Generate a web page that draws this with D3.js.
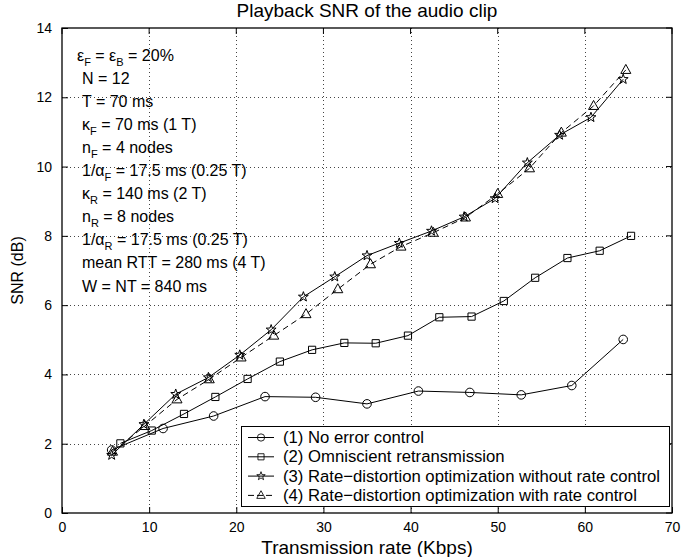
<!DOCTYPE html>
<html>
<head>
<meta charset="utf-8">
<script src="https://cdn.jsdelivr.net/npm/d3@7"></script>
<style>
  html, body { margin: 0; padding: 0; background: #fff; }
  svg { display: block; font-family: "Liberation Sans", Arial, Helvetica, sans-serif; }
</style>
</head>
<body>
<svg id="chart" width="681" height="557"></svg>
<script>
// ---------------- data ----------------
const xTicks = [0, 10, 20, 30, 40, 50, 60, 70];
const yTicks = [0, 2, 4, 6, 8, 10, 12, 14];

const s1x = [5.7, 11.6, 17.4, 23.3, 29.1, 35.0, 40.9, 46.8, 52.7, 58.5, 64.4];
const s1y = [1.82, 2.44, 2.80, 3.36, 3.34, 3.15, 3.52, 3.48, 3.41, 3.68, 5.01];

const s2x = [6.7, 10.3, 14.0, 17.6, 21.3, 25.0, 28.7, 32.4, 36.0, 39.7, 43.3, 47.0, 50.7, 54.3, 58.0, 61.7, 65.3];
const s2y = [2.01, 2.38, 2.86, 3.35, 3.87, 4.37, 4.71, 4.91, 4.90, 5.12, 5.65, 5.67, 6.12, 6.79, 7.36, 7.57, 8.00];

const s3x = [5.7, 9.4, 13.05, 16.8, 20.4, 24.0, 27.7, 31.3, 35.0, 38.7, 42.4, 46.15, 49.7, 53.4, 57.1, 60.7, 64.4];
const s3y = [1.67, 2.56, 3.43, 3.91, 4.56, 5.29, 6.24, 6.82, 7.43, 7.79, 8.14, 8.55, 9.08, 10.11, 10.91, 11.42, 12.52];

const s4x = [5.8, 9.5, 13.2, 16.9, 20.55, 24.3, 28.0, 31.65, 35.4, 38.9, 42.6, 46.3, 50.0, 53.65, 57.3, 61.0, 64.7];
const s4y = [1.77, 2.51, 3.28, 3.86, 4.49, 5.12, 5.74, 6.46, 7.18, 7.69, 8.09, 8.53, 9.21, 9.95, 10.98, 11.75, 12.79];

const seriesNames = [
  "(1) No error control",
  "(2) Omniscient retransmission",
  "(3) Rate\u2212distortion optimization without rate control",
  "(4) Rate\u2212distortion optimization with rate control"
];
const seriesMarkers = ["circle", "square", "star", "triangle"];
const seriesDash = [null, null, null, "6,4"];

const titleText = "Playback SNR of the audio clip";
const xLabel = "Transmission rate (Kbps)";
const yLabel = "SNR (dB)";

// annotation lines: [text, subscript] pairs
const annotations = [
  [["\u03b5", "F"], [" = \u03b5", "B"], [" = 20%", ""]],
  [["N = 12", ""]],
  [["T = 70 ms", ""]],
  [["\u03ba", "F"], [" = 70 ms (1 T)", ""]],
  [["n", "F"], [" = 4 nodes", ""]],
  [["1/\u03b1", "F"], [" = 17.5 ms (0.25 T)", ""]],
  [["\u03ba", "R"], [" = 140 ms (2 T)", ""]],
  [["n", "R"], [" = 8 nodes", ""]],
  [["1/\u03b1", "R"], [" = 17.5 ms (0.25 T)", ""]],
  [["mean RTT = 280 ms (4 T)", ""]],
  [["W = NT = 840 ms", ""]]
];

// ---------------- layout ----------------
const W = 681, H = 557;
const margin = { left: 62, right: 9, top: 28, bottom: 44 };
const x = d3.scaleLinear().domain([0, 70]).range([margin.left, W - margin.right]);
const y = d3.scaleLinear().domain([0, 14]).range([H - margin.bottom, margin.top]);
const x0 = x.range()[0], x1 = x.range()[1], y0 = y.range()[0], y1 = y.range()[1];

const svg = d3.select("#chart");
svg.append("rect").attr("width", W).attr("height", H).attr("fill", "#fff");

// grid
const grid = svg.append("g").attr("stroke", "#444").attr("stroke-width", 1)
  .attr("stroke-dasharray", "1,3").attr("shape-rendering", "crispEdges");
xTicks.slice(1, -1).forEach(t => {
  grid.append("line").attr("x1", Math.round(x(t)) + 0.5).attr("x2", Math.round(x(t)) + 0.5)
    .attr("y1", y1).attr("y2", y0);
});
yTicks.slice(1, -1).forEach(t => {
  grid.append("line").attr("y1", Math.round(y(t)) + 0.5).attr("y2", Math.round(y(t)) + 0.5)
    .attr("x1", x0).attr("x2", x1);
});

// axes (inward ticks, box)
const tickLen = 6;
const axB = d3.axisBottom(x).tickValues(xTicks).tickSizeInner(-tickLen).tickSizeOuter(0).tickPadding(9);
const axL = d3.axisLeft(y).tickValues(yTicks).tickSizeInner(-tickLen).tickSizeOuter(0).tickPadding(10);

function styleAxis(g) {
  g.selectAll(".domain").remove();
  g.selectAll("line").attr("stroke", "#000");
  g.selectAll("text").attr("fill", "#000").style("font-size", "14px")
    .style("font-family", "'Liberation Sans', Arial, Helvetica, sans-serif");
}
svg.append("g").attr("transform", `translate(0,${y0})`).call(axB).call(styleAxis);
svg.append("g").attr("transform", `translate(${x0},0)`).call(axL).call(styleAxis);

// mirrored inward ticks on top and right
const mt = svg.append("g").attr("stroke", "#000").attr("stroke-width", 1);
xTicks.forEach(t => {
  mt.append("line").attr("x1", x(t)).attr("x2", x(t)).attr("y1", y1).attr("y2", y1 + tickLen);
});
yTicks.forEach(t => {
  mt.append("line").attr("y1", y(t)).attr("y2", y(t)).attr("x1", x1).attr("x2", x1 - tickLen);
});

svg.append("rect").attr("x", x0).attr("y", y1).attr("width", x1 - x0).attr("height", y0 - y1)
  .attr("fill", "none").attr("stroke", "#000").attr("stroke-width", 1.3);

// annotation text
const ann = svg.append("g").attr("fill", "#000").style("font-size", "16px");
annotations.forEach((parts, i) => {
  const t = ann.append("text").attr("x", i === 0 ? 77 : 82).attr("y", 61 + i * 23.05);
  let shift = 0;
  parts.forEach(([main, sub]) => {
    if (main) {
      t.append("tspan").attr("dy", -shift).text(main);
      shift = 0;
    }
    if (sub) {
      t.append("tspan").attr("dy", 5).style("font-size", "11px").text(sub);
      shift = 5;
    }
  });
});

// markers
function markerPath(type) {
  if (type === "circle") return d3.symbol(d3.symbolCircle, Math.PI * 4.3 * 4.3)();
  if (type === "square") return "M-3.6,-3.6H3.6V3.6H-3.6Z";
  if (type === "triangle") return "M0,-5.5L5,3.5L-5,3.5Z";
  if (type === "star") {
    const pts = [];
    for (let k = 0; k < 10; k++) {
      const r = k % 2 === 0 ? 5.2 : 2.1;
      const a = -Math.PI / 2 + k * Math.PI / 5;
      pts.push([r * Math.cos(a), r * Math.sin(a)]);
    }
    return "M" + pts.map(p => p[0].toFixed(2) + "," + p[1].toFixed(2)).join("L") + "Z";
  }
}

const allX = [s1x, s2x, s3x, s4x];
const allY = [s1y, s2y, s3y, s4y];
const line = d3.line().x(d => x(d[0])).y(d => y(d[1]));

allX.forEach((xs, si) => {
  const pts = xs.map((v, i) => [v, allY[si][i]]);
  const g = svg.append("g");
  g.append("path").attr("d", line(pts)).attr("fill", "none").attr("stroke", "#000")
    .attr("stroke-width", 1).attr("stroke-dasharray", seriesDash[si]);
  g.selectAll("path.m").data(pts).join("path").attr("class", "m")
    .attr("d", markerPath(seriesMarkers[si]))
    .attr("transform", d => `translate(${x(d[0])},${y(d[1])})`)
    .attr("fill", "none").attr("stroke", "#000").attr("stroke-width", 1);
});

// legend
const lg = svg.append("g");
const lx = 241, ly = 426, lw = 428, lh = 80;
lg.append("rect").attr("x", lx + 0.5).attr("y", ly + 0.5).attr("width", lw).attr("height", lh)
  .attr("fill", "#fff").attr("stroke", "#000").attr("stroke-width", 1);
seriesNames.forEach((name, i) => {
  const ry = ly + 11.5 + i * 19.3;
  lg.append("line").attr("x1", lx + 7).attr("x2", lx + 33).attr("y1", ry).attr("y2", ry)
    .attr("stroke", "#000").attr("stroke-width", 1).attr("stroke-dasharray", seriesDash[i] ? "6,3" : null);
  lg.append("path").attr("d", markerPath(seriesMarkers[i]))
    .attr("transform", `translate(${lx + 20},${ry}) scale(0.85)`)
    .attr("fill", "none").attr("stroke", "#000").attr("stroke-width", 1);
  lg.append("text").attr("x", lx + 42).attr("y", ry + 5.5).style("font-size", "16.7px")
    .attr("fill", "#000").text(name);
});

// title & labels
svg.append("text").attr("x", (x0 + x1) / 2).attr("y", 17).attr("text-anchor", "middle")
  .style("font-size", "19px").attr("fill", "#000").text(titleText);
svg.append("text").attr("x", (x0 + x1) / 2).attr("y", 554).attr("text-anchor", "middle")
  .style("font-size", "19px").attr("fill", "#000").text(xLabel);
svg.append("text").attr("transform", `translate(23,${(y0 + y1) / 2}) rotate(-90)`)
  .attr("text-anchor", "middle").style("font-size", "16px").attr("fill", "#000").text(yLabel);
</script>
</body>
</html>
